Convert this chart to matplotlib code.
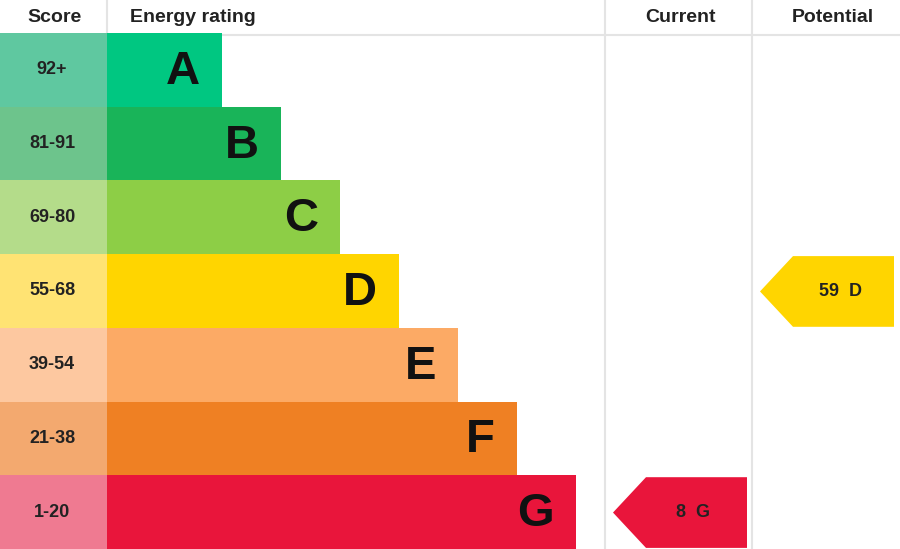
import matplotlib
matplotlib.use("Agg")
import matplotlib.pyplot as plt
from matplotlib.patches import Rectangle, Polygon

bands = ["A", "B", "C", "D", "E", "F", "G"]
score_ranges = ["92+", "81-91", "69-80", "55-68", "39-54", "21-38", "1-20"]
band_colors = ["#00c781", "#19b459", "#8dce46", "#ffd500", "#fcaa65", "#ef8023", "#e9153b"]
score_colors = ["#5fc8a0", "#6dc48c", "#b4dc8a", "#ffe373", "#fdc8a0", "#f3a96f", "#ef7a91"]
current_score, current_band = 8, "G"
potential_score, potential_band = 59, "D"

fig = plt.figure(figsize=(9, 5.49), dpi=100)
ax = fig.add_axes([0, 0, 1, 1])
ax.set_xlim(0, 900); ax.set_ylim(549, 0); ax.axis("off")

top, rh = 33, 73.7
font = dict(family="Liberation Sans", fontweight="bold")
for x in [107, 605, 752]:
    ax.plot([x, x], [0, 549], color="#e4e4e4", lw=1.5, zorder=0)
ax.plot([0, 900], [35, 35], color="#e4e4e4", lw=1.5, zorder=0)
ax.text(55, 18, "Score", ha="center", va="center", fontsize=14, color="#222", **font)
ax.text(130, 18, "Energy rating", ha="left", va="center", fontsize=14, color="#222", **font)
ax.text(680, 18, "Current", ha="center", va="center", fontsize=14, color="#222", **font)
ax.text(833, 18, "Potential", ha="center", va="center", fontsize=14, color="#222", **font)

for i, (b, s) in enumerate(zip(bands, score_ranges)):
    y0 = top + i * rh
    ax.add_patch(Rectangle((0, y0), 107, rh, color=score_colors[i], lw=0))
    right = 222 + 59 * i
    ax.add_patch(Rectangle((107, y0), right - 107, rh, color=band_colors[i], lw=0))
    ax.text(52, y0 + rh / 2, s, ha="center", va="center", fontsize=13, color="#222", **font)
    ax.text(right - 22, y0 + rh / 2 + 2, b, ha="right", va="center", fontsize=34, color="#111", **font)

def arrow(x_tip, x_right, band, score):
    i = bands.index(band)
    y0 = top + i * rh + 2; y1 = y0 + rh - 3
    ym = (y0 + y1) / 2
    pts = [(x_tip, ym), (x_tip + 33, y0), (x_right, y0), (x_right, y1), (x_tip + 33, y1)]
    ax.add_patch(Polygon(pts, closed=True, color=band_colors[i], lw=0))
    ax.text((x_tip + 33 + x_right) / 2 - 3, ym, f"{score}  {band}", ha="center", va="center",
            fontsize=13, color="#222", **font)

arrow(613, 747, current_band, current_score)
arrow(760, 894, potential_band, potential_score)

fig.savefig("out.png", dpi=100)
